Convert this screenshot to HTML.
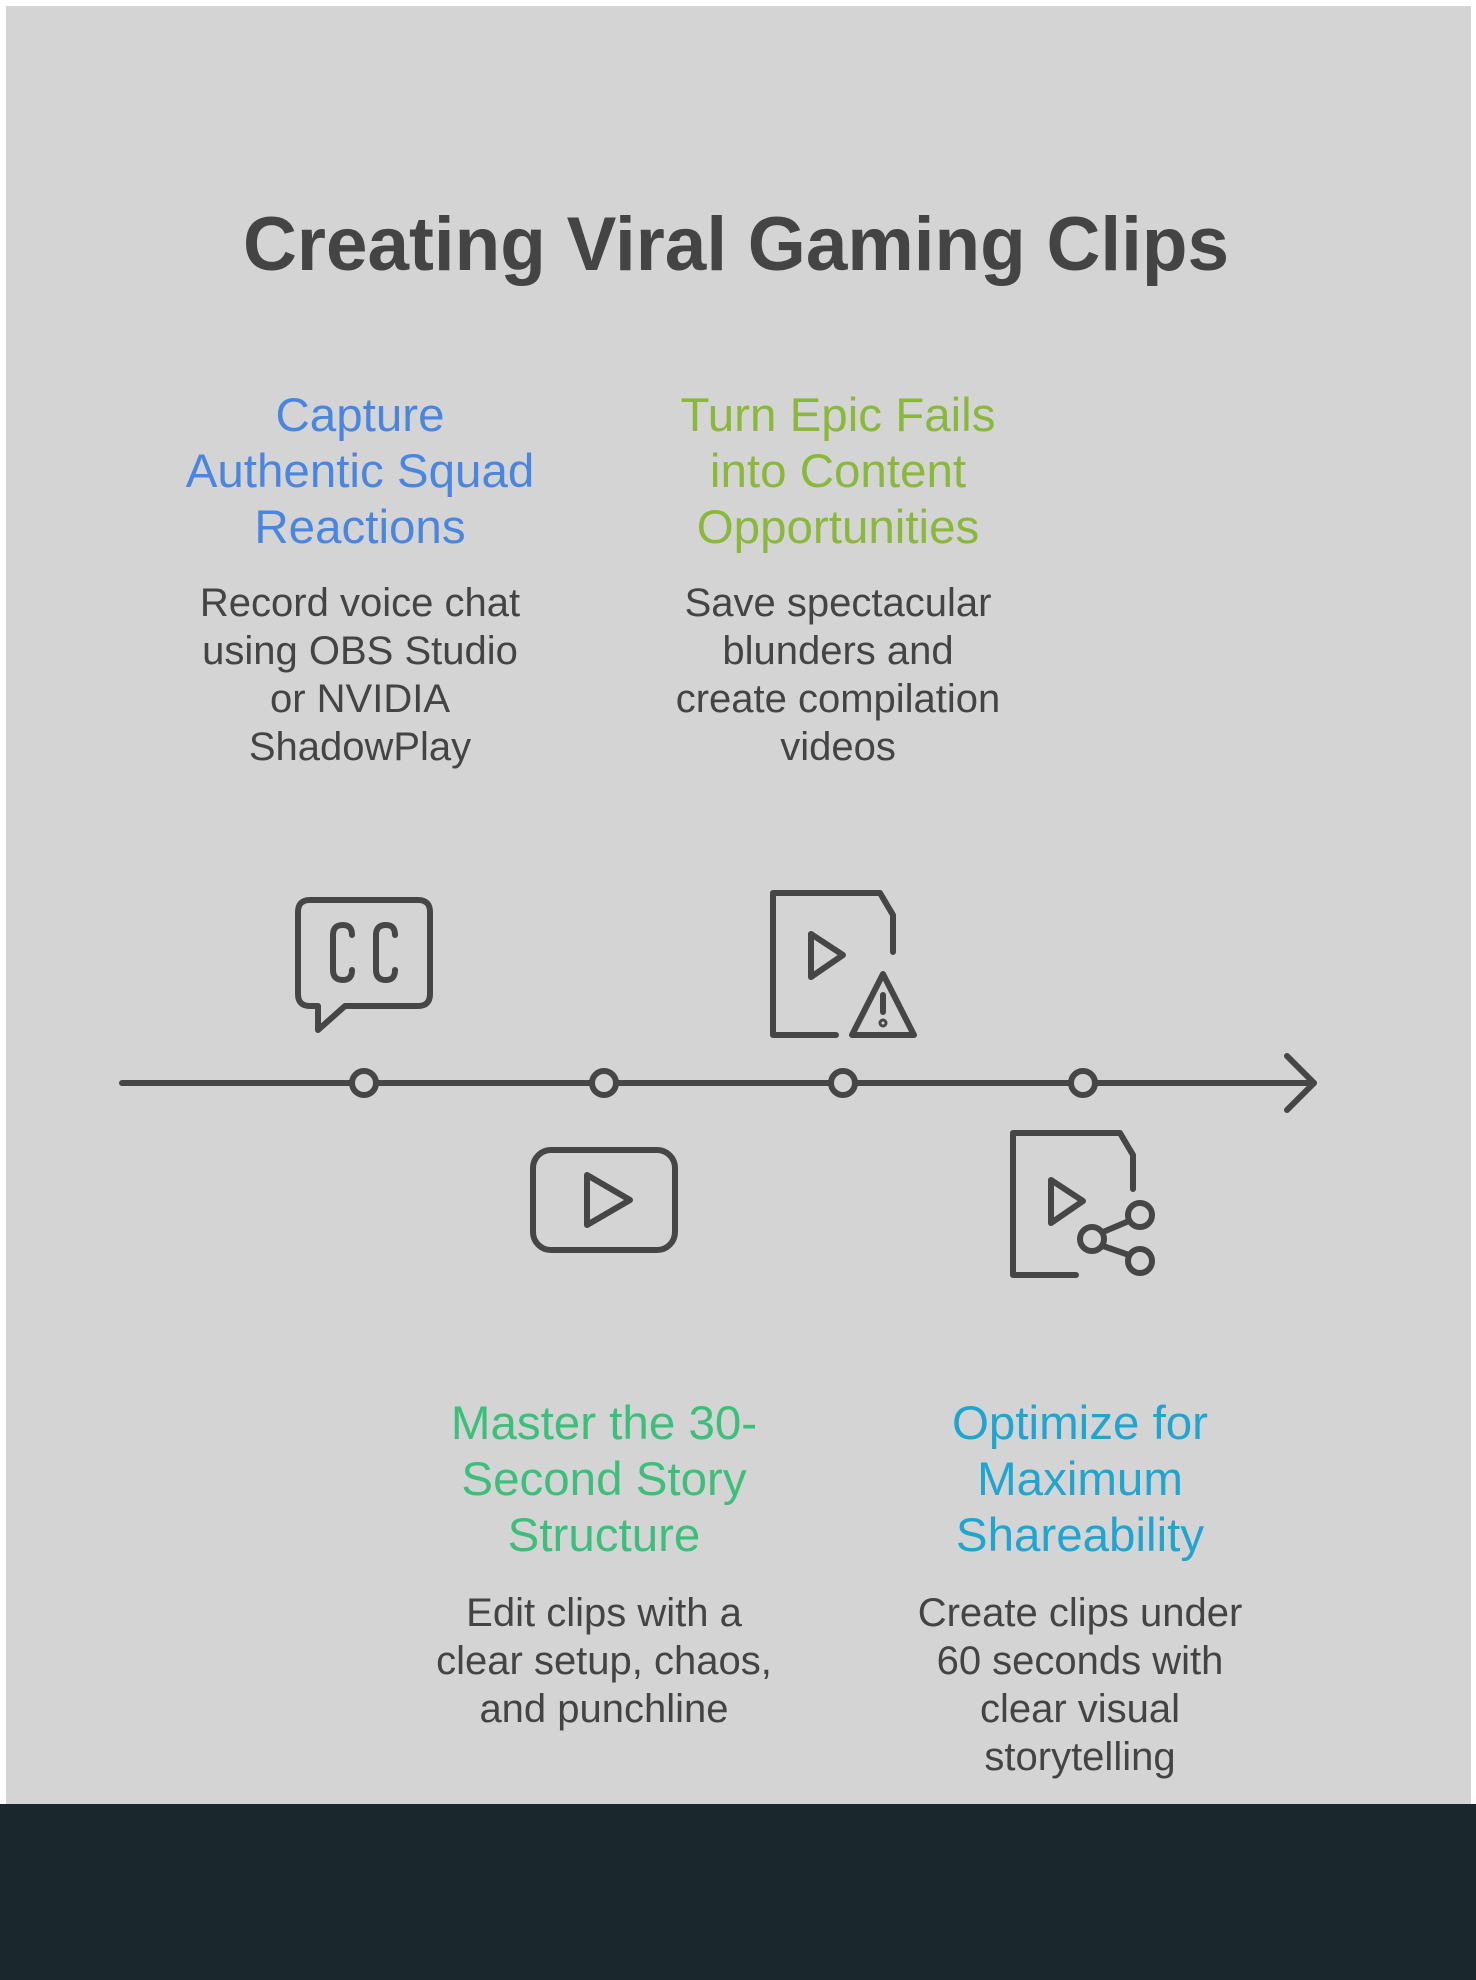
<!DOCTYPE html>
<html><head><meta charset="utf-8"><style>
html,body{margin:0;padding:0;background:#fff}
svg{display:block}
text{font-family:"Liberation Sans",sans-serif;text-anchor:middle}
.h{font-size:47.5px}
.d{font-size:40px;fill:#444}
</style></head><body>
<svg width="1476" height="1980" viewBox="0 0 1476 1980" xmlns="http://www.w3.org/2000/svg">
<rect x="0" y="0" width="1476" height="1980" fill="#fff"/>
<rect x="6" y="6" width="1465" height="1800" fill="#d4d4d4"/>
<rect x="0" y="1804" width="1476" height="176" fill="#1a282d"/>
<text x="736" y="270" font-size="76" font-weight="bold" fill="#444" textLength="986" lengthAdjust="spacingAndGlyphs">Creating Viral Gaming Clips</text>

<g fill="#4a86e0"><text class="h" x="360" y="431">Capture</text><text class="h" x="360" y="487">Authentic Squad</text><text class="h" x="360" y="543">Reactions</text></g>
<g fill="#8ab83a"><text class="h" x="838" y="431">Turn Epic Fails</text><text class="h" x="838" y="487">into Content</text><text class="h" x="838" y="543">Opportunities</text></g>
<text class="d" x="360" y="616">Record voice chat</text><text class="d" x="360" y="664">using OBS Studio</text><text class="d" x="360" y="712">or NVIDIA</text><text class="d" x="360" y="760">ShadowPlay</text>
<text class="d" x="838" y="616">Save spectacular</text><text class="d" x="838" y="664">blunders and</text><text class="d" x="838" y="712">create compilation</text><text class="d" x="838" y="760">videos</text>

<g fill="#3cbf7a"><text class="h" x="604" y="1439">Master the 30-</text><text class="h" x="604" y="1495">Second Story</text><text class="h" x="604" y="1551">Structure</text></g>
<g fill="#1ea6d0"><text class="h" x="1080" y="1439">Optimize for</text><text class="h" x="1080" y="1495">Maximum</text><text class="h" x="1080" y="1551">Shareability</text></g>
<text class="d" x="604" y="1626">Edit clips with a</text><text class="d" x="604" y="1674">clear setup, chaos,</text><text class="d" x="604" y="1722">and punchline</text>
<text class="d" x="1080" y="1626">Create clips under</text><text class="d" x="1080" y="1674">60 seconds with</text><text class="d" x="1080" y="1722">clear visual</text><text class="d" x="1080" y="1770">storytelling</text>

<g stroke="#464646" stroke-width="6" fill="none" stroke-linecap="round" stroke-linejoin="round">
<line x1="122" y1="1083" x2="1314" y2="1083"/>
<polyline points="1287,1056 1314,1083 1287,1110"/>
<g fill="#d4d4d4">
<circle cx="364" cy="1083" r="12"/><circle cx="604" cy="1083" r="12"/><circle cx="843" cy="1083" r="12"/><circle cx="1083" cy="1083" r="12"/>
</g>
<!-- CC -->
<path d="M310,900 H418 Q430,900 430,912 V994 Q430,1006 418,1006 H345 L318,1030 V1006 H310 Q298,1006 298,994 V912 Q298,900 310,900 Z"/>
<path d="M352,935 Q352,925 343,925 Q333,925 333,935 V970 Q333,980 343,980 Q352,980 352,970"/>
<path d="M395,935 Q395,925 386,925 Q376,925 376,935 V970 Q376,980 386,980 Q395,980 395,970"/>
<!-- play box -->
<rect x="533" y="1150" width="142" height="100" rx="18"/>
<path d="M587,1175 L630,1200 L587,1225 Z"/>
<!-- file warning -->
<path d="M836,1035 H773 V893 H880 L893,915 V952"/>
<path d="M811,934 L843,955 L811,977 Z"/>
<path d="M883,974 L852,1035 H914 Z"/>
<line x1="883" y1="995" x2="883" y2="1012"/>
<circle cx="883" cy="1023" r="1.5"/>
<!-- file share -->
<path d="M1076,1275 H1013 V1133 H1120 L1133,1155 V1189"/>
<path d="M1051,1180 L1083,1201 L1051,1223 Z"/>
<circle cx="1140" cy="1215" r="12"/>
<circle cx="1092" cy="1239" r="12"/>
<circle cx="1140" cy="1261" r="12"/>
<line x1="1103" y1="1232" x2="1129" y2="1221"/>
<line x1="1103" y1="1246" x2="1129" y2="1255"/>
</g>
</svg>
</body></html>
